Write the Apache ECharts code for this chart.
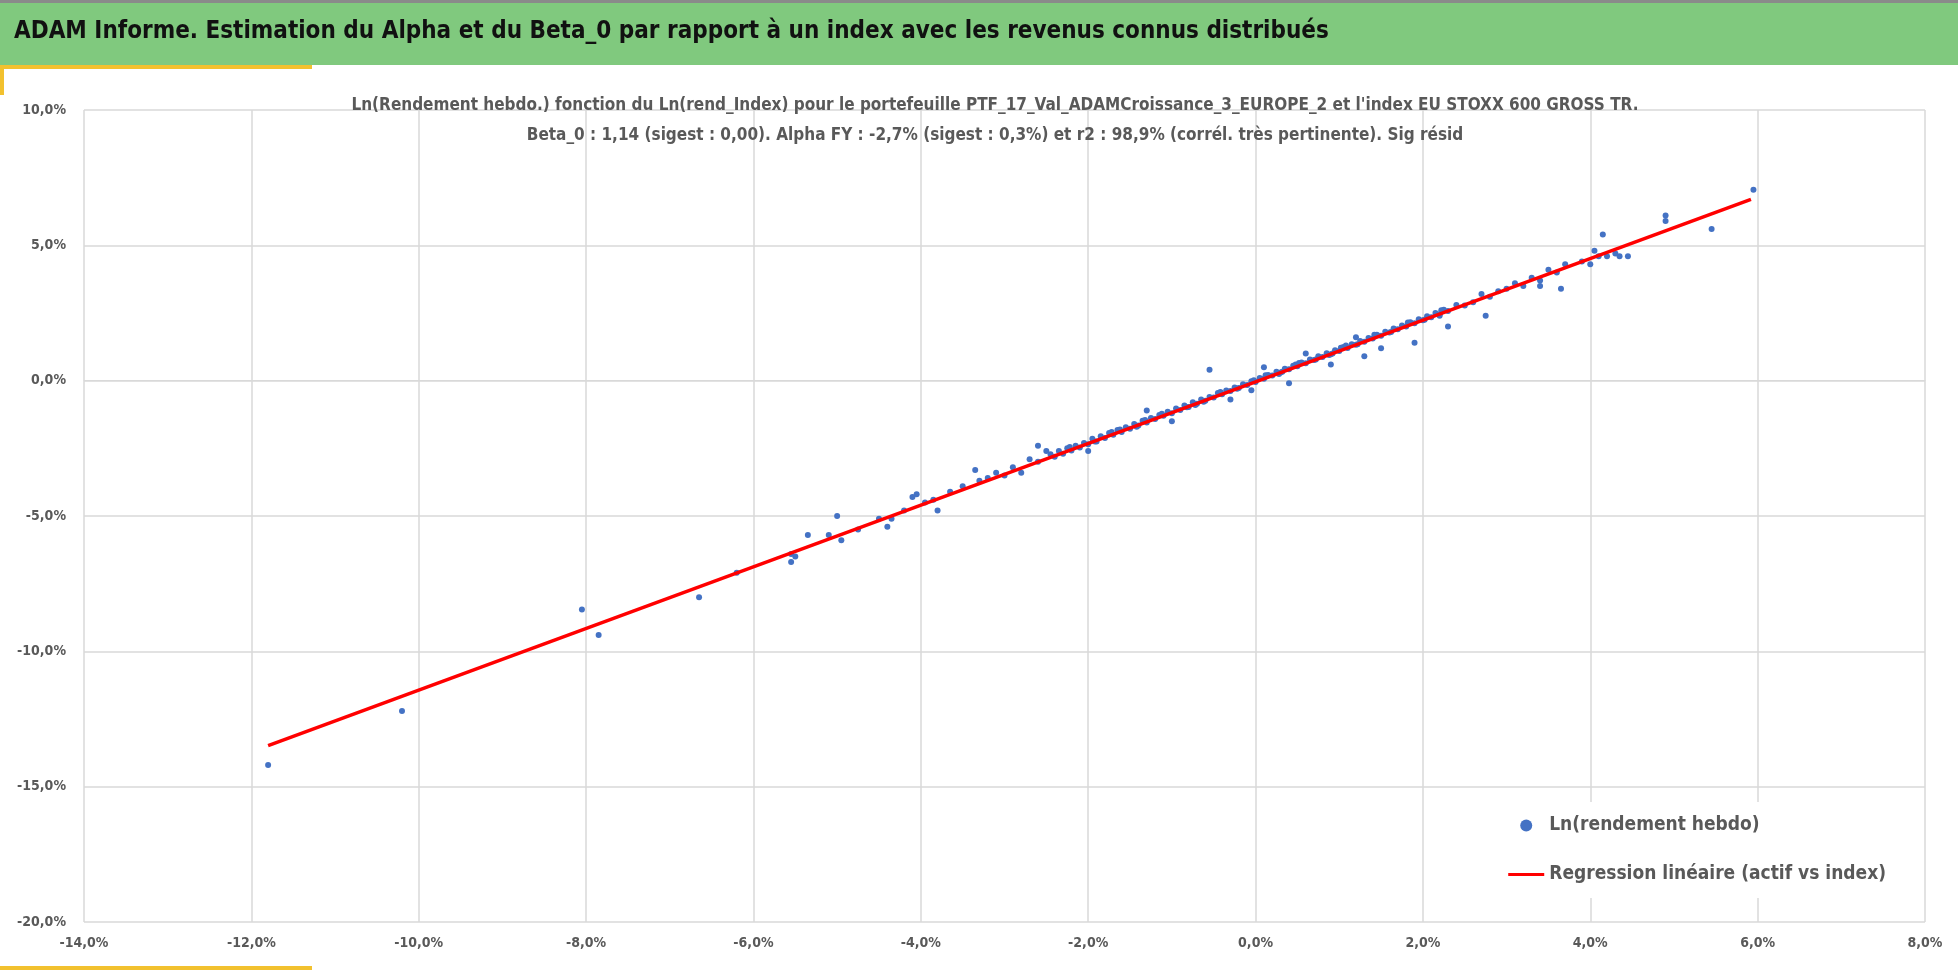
<!DOCTYPE html>
<html>
<head>
<meta charset="utf-8">
<script src="https://cdn.jsdelivr.net/npm/echarts@6/dist/echarts.min.js"></script>
<style>html,body{margin:0;padding:0;background:#fff}#main{width:1958px;height:980px}</style>
</head>
<body>
<div id="main"></div>
<script>
var FONT = "'Liberation Sans Narrow','DejaVu Sans Condensed',sans-serif";

// Ln(rend_Index) in %, Ln(rendement hebdo) in %
var indexRet = [
  -11.8, -10.2, -8.05, -7.85, -6.65, -6.2, -5.55, -5.55, -5.5, -5.35, -5.1, -5.0, -4.95, -4.75,
  -4.5, -4.4, -4.35, -4.2, -4.1, -4.05, -3.95, -3.85, -3.8, -3.65, -3.5, -3.35, -3.3, -3.2, -3.1,
  -3.0, -2.9, -2.8, -2.7, -2.6, -2.5,
  -2.45, -2.4, -2.35, -2.3, -2.25, -2.2, -2.15, -2.1, -2.05, -2.0, -1.95, -1.9, -1.85, -1.8, -1.75,
  -1.7, -1.65, -1.6, -1.55, -1.5, -1.45, -1.4, -1.35, -1.3, -1.25, -1.2, -1.15, -1.1, -1.05, -1.0,
  -0.95, -0.9, -0.85, -0.8, -0.75, -0.7, -0.65, -0.6, -0.55, -0.5, -0.45, -0.4, -0.35, -0.3, -0.25,
  -0.2, -0.15, -0.1, -0.05, 0, 0.05, 0.1, 0.15, 0.2, 0.25, 0.3, 0.35, 0.4, 0.45, 0.5, 0.55, 0.6,
  0.65, 0.7, 0.75, 0.8, 0.85, 0.9, 0.95, 1.0, 1.05, 1.1, 1.15, 1.2, 1.25, 1.3, 1.35, 1.4, 1.45, 1.5,
  1.55, 1.6, 1.65, 1.7, 1.75, 1.8, 1.85, 1.9, 1.95, 2.0, 2.05, 2.1, 2.15, 2.2, 2.25, 2.3, 2.4, 2.5,
  -2.22, -1.92, -1.62, -1.42, -1.12, -0.82, -0.62, -0.42, -0.22, -0.02, 0.12, 0.32, 0.52, 0.72,
  0.92, 1.02, 1.22, 1.42, 1.62, 1.82, 2.02, 2.22, 1.08, 0.88, 0.48, 0.28, -0.72, -1.32, -1.72,
  -0.55, 1.5, 1.3, 1.9, 2.3, 0.4, -0.3, -1.0, 0.1, -0.05, 0.9, 1.2, 0.6, -2.6, -2.0, -1.3,
  2.6, 2.7, 2.8, 2.9, 3.0, 3.1, 3.2, 3.3, 3.4, 3.5, 3.6, 3.65, 3.7, 3.9, 4.0, 4.05, 4.1, 4.35, 4.45,
  2.75, 3.4, 2.2, 4.15, 4.2, 4.3, 4.9, 4.9, 5.45, 5.95
];
var assetRet = [
  -14.2, -12.2, -8.45, -9.4, -8.0, -7.1, -6.4, -6.7, -6.5, -5.7, -5.7, -5.0, -5.9, -5.5,
  -5.1, -5.4, -5.1, -4.8, -4.3, -4.2, -4.5, -4.4, -4.8, -4.1, -3.9, -3.3, -3.7, -3.6, -3.4,
  -3.5, -3.2, -3.4, -2.9, -3.0, -2.6,
  -2.72, -2.81, -2.6, -2.7, -2.5, -2.58, -2.4, -2.47, -2.3, -2.35, -2.15, -2.25, -2.05, -2.12, -1.93,
  -2.0, -1.82, -1.9, -1.72, -1.78, -1.6, -1.66, -1.48, -1.55, -1.38, -1.42, -1.27, -1.3, -1.15, -1.2,
  -1.03, -1.08, -0.92, -0.97, -0.8, -0.85, -0.7, -0.74, -0.6, -0.62, -0.46, -0.5, -0.36, -0.38, -0.25,
  -0.27, -0.13, -0.16, -0.02, -0.05, 0.1, 0.07, 0.21, 0.19, 0.33, 0.3, 0.44, 0.42, 0.55, 0.53, 0.67, 0.64,
  0.78, 0.76, 0.9, 0.87, 1.01, 0.98, 1.12, 1.1, 1.24, 1.21, 1.35, 1.33, 1.47, 1.44, 1.58, 1.56, 1.7, 1.66,
  1.81, 1.78, 1.93, 1.9, 2.04, 2.0, 2.16, 2.12, 2.27, 2.23, 2.38, 2.34, 2.5, 2.45, 2.62, 2.57, 2.8, 2.78,
  -2.45, -2.25, -1.8, -1.7, -1.22, -0.98, -0.78, -0.42, -0.3, 0.02, 0.2, 0.33, 0.65, 0.78,
  1.0, 1.22, 1.35, 1.7, 1.8, 2.15, 2.25, 2.6, 1.3, 0.95, 0.6, 0.25, -0.9, -1.45, -1.9,
  0.4, 1.2, 0.9, 1.4, 2.0, -0.1, -0.7, -1.5, 0.5, -0.35, 0.6, 1.6, 1.0, -2.4, -2.6, -1.1,
  2.9, 3.2, 3.1, 3.3, 3.4, 3.6, 3.5, 3.8, 3.7, 4.1, 4.0, 3.4, 4.3, 4.4, 4.3, 4.8, 4.6, 4.6, 4.6,
  2.4, 3.5, 2.4, 5.4, 4.6, 4.7, 6.1, 5.9, 5.6, 7.05
];
// regression line end points (index, asset), %
var regX = [-11.8, 5.92];
var regY = [-13.48, 6.7];

var scatterData = indexRet.map(function (x, i) { return [x, assetRet[i]]; });
var regData = regX.map(function (x, i) { return [x, regY[i]]; });

function pct(v) { return v.toFixed(1).replace('.', ',') + '%'; }

var chart = echarts.init(document.getElementById('main'));
chart.setOption({
  backgroundColor: '#fff',
  animation: false,
  textStyle: { fontFamily: FONT },
  graphic: [
    { type: 'rect', shape: { x: 0, y: 0, width: 1958, height: 3 }, style: { fill: '#8a8a8a' } },
    { type: 'rect', shape: { x: 0, y: 3, width: 1958, height: 62 }, style: { fill: '#80c97e' } },
    { type: 'rect', shape: { x: 0, y: 65, width: 312, height: 4 }, style: { fill: '#f2c12e' } },
    { type: 'rect', shape: { x: 0, y: 65, width: 4, height: 30 }, style: { fill: '#f2c12e' } },
    { type: 'rect', shape: { x: 0, y: 966, width: 312, height: 4 }, style: { fill: '#f2c12e' } },
    { type: 'text', left: 14, top: 20, style: { text: 'ADAM Informe. Estimation du Alpha et du Beta_0 par rapport à un index avec les revenus connus distribués', font: 'bold 24px ' + FONT, fill: '#111' } }
  ],
  title: {
    text: "Ln(Rendement hebdo.) fonction du Ln(rend_Index) pour le portefeuille PTF_17_Val_ADAMCroissance_3_EUROPE_2 et l'index EU STOXX 600 GROSS TR.\nBeta_0 : 1,14 (sigest : 0,00). Alpha FY : -2,7% (sigest : 0,3%) et r2 : 98,9% (corrél. très pertinente). Sig résid",
    left: 990, top: 86, textAlign: 'center',
    textStyle: { fontSize: 17, fontWeight: 'bold', color: '#595959', lineHeight: 30, fontFamily: FONT }
  },
  legend: {
    orient: 'vertical', right: 52, bottom: 82, itemGap: 30,
    backgroundColor: '#fff', padding: [14, 20, 14, 20],
    itemWidth: 36, itemHeight: 12,
    textStyle: { fontSize: 19, fontWeight: 'bold', color: '#595959', fontFamily: FONT },
    data: [
      { name: 'Ln(rendement hebdo)', icon: 'circle', itemStyle: { color: '#4472c4' } },
      { name: 'Regression linéaire (actif vs index)', icon: 'path://M0,5 L36,5 L36,8 L0,8 Z' }
    ]
  },
  grid: { left: 84, right: 33, top: 110, bottom: 58 },
  xAxis: {
    type: 'value', min: -14, max: 8, interval: 2,
    axisLine: { lineStyle: { color: '#d9d9d9' } }, axisTick: { show: false },
    splitLine: { lineStyle: { color: '#d9d9d9', width: 1.5 } },
    axisLabel: { formatter: pct, color: '#595959', fontSize: 14, fontWeight: 'bold', margin: 14 }
  },
  yAxis: {
    type: 'value', min: -20, max: 10, interval: 5,
    axisLine: { show: false }, axisTick: { show: false },
    splitLine: { lineStyle: { color: '#d9d9d9', width: 1.5 } },
    axisLabel: { formatter: pct, color: '#595959', fontSize: 14, fontWeight: 'bold', margin: 18 }
  },
  series: [
    { name: 'Ln(rendement hebdo)', type: 'scatter', symbolSize: 6, itemStyle: { color: '#4472c4', opacity: 1 }, data: scatterData, z: 2 },
    { name: 'Regression linéaire (actif vs index)', type: 'line', symbol: 'none', lineStyle: { color: '#ff0000', width: 3.5 }, itemStyle: { color: '#ff0000' }, data: regData, z: 3 }
  ]
});
</script>
</body>
</html>
